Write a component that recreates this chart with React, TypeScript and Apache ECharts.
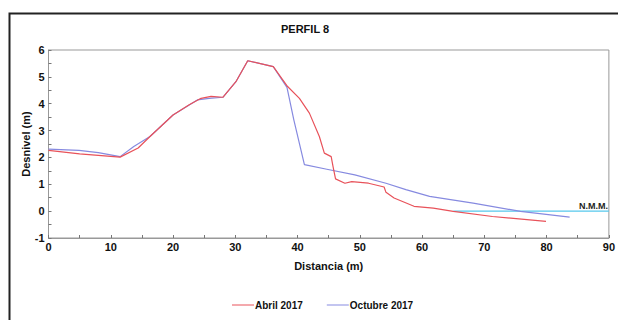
import React, { useEffect, useRef } from "react";
import * as echarts from "echarts";

const chartTitle = "PERFIL 8";
const xAxisName = "Distancia (m)";
const yAxisName = "Desnivel (m)";
const seriesNames = ["Abril 2017", "Octubre 2017"];
const nmmLabel = "N.M.M.";

const abrilX = [0, 5, 11.5, 14.4, 16.3, 20, 22.6, 24.5, 26.1, 28, 30.1, 32, 36.1, 38.4, 40.3, 41.9, 43.5, 44.3, 45.4, 45.7, 46.1, 47.6, 48.7, 51.4, 53.9, 54.2, 55.5, 58.7, 61.8, 65, 71.3, 79.9];
const abrilY = [2.26, 2.13, 2.01, 2.35, 2.78, 3.58, 3.96, 4.2, 4.27, 4.24, 4.82, 5.6, 5.38, 4.64, 4.2, 3.65, 2.78, 2.16, 2.03, 1.66, 1.2, 1.04, 1.1, 1.04, 0.9, 0.7, 0.49, 0.18, 0.11, -0.01, -0.2, -0.38];

const octX = [0, 4.9, 8, 11.5, 13.7, 16.3, 20, 23.9, 25.8, 28, 30.1, 32, 36.1, 38.3, 39.4, 41.1, 44.7, 49.2, 54.2, 57.4, 61.2, 68.2, 75.8, 83.7];
const octY = [2.31, 2.26, 2.18, 2.03, 2.41, 2.78, 3.58, 4.14, 4.2, 4.24, 4.82, 5.6, 5.38, 4.61, 3.4, 1.73, 1.56, 1.35, 1.04, 0.8, 0.55, 0.3, -0.01, -0.22];

const nmmX = [65, 90];
const nmmY = [0, 0];

const zip = (xs: number[], ys: number[]) => xs.map((x, i) => [x, ys[i]]);

export default function App() {
  const ref = useRef<HTMLDivElement>(null);
  useEffect(() => {
    if (!ref.current) return;
    const chart = echarts.init(ref.current, null, { renderer: "svg" });
    const font = "'Liberation Sans', Arial, sans-serif";
    chart.setOption({
      animation: false,
      backgroundColor: "#ffffff",
      textStyle: { fontFamily: font },
      title: {
        text: chartTitle,
        left: 276,
        top: 18,
        textStyle: { fontSize: 11, fontWeight: "bold", color: "#111", fontFamily: font },
      },
      legend: {
        left: 227,
        top: 295,
        itemWidth: 22,
        itemHeight: 1,
        itemGap: 24,
        icon: "rect",
        data: seriesNames,
        textStyle: { fontSize: 10, fontWeight: "bold", color: "#111", fontFamily: font, padding: [0, 0, 0, -4] },
      },
      grid: {
        left: 48.5,
        right: 9,
        top: 50,
        bottom: 82,
        show: true,
        borderColor: "#999",
        borderWidth: 1,
        backgroundColor: "transparent",
      },
      xAxis: {
        type: "value",
        min: 0,
        max: 90,
        interval: 10,
        name: xAxisName,
        nameLocation: "middle",
        nameGap: 22,
        nameMoveOverlap: false,
        nameTextStyle: { fontSize: 11, fontWeight: "bold", color: "#111", fontFamily: font },
        axisLine: { show: true, onZero: false, lineStyle: { color: "#999" } },
        axisTick: { show: true, inside: true, length: 3, lineStyle: { color: "#777" } },
        minorTick: { show: true, splitNumber: 2, length: 3, lineStyle: { color: "#777" } },
        axisLabel: { fontSize: 11, fontWeight: "bold", color: "#111", margin: 3, fontFamily: font },
        splitLine: { show: false },
      },
      yAxis: {
        type: "value",
        min: -1,
        max: 6,
        interval: 1,
        name: yAxisName,
        nameLocation: "middle",
        nameGap: 17,
        nameMoveOverlap: false,
        nameTextStyle: { fontSize: 11, fontWeight: "bold", color: "#111", fontFamily: font },
        axisLine: { show: true, onZero: false, lineStyle: { color: "#999" } },
        axisTick: { show: true, inside: true, length: 3, lineStyle: { color: "#777" } },
        minorTick: { show: true, splitNumber: 2, length: 3, lineStyle: { color: "#777" } },
        axisLabel: { fontSize: 11, fontWeight: "bold", color: "#111", margin: 4, fontFamily: font },
        splitLine: { show: false },
      },
      series: [
        {
          name: "N.M.M.",
          type: "line",
          data: zip(nmmX, nmmY),
          symbol: "none",
          lineStyle: { color: "#56c8ec", width: 1.3 },
          itemStyle: { color: "#56c8ec" },
          endLabel: {
            show: true,
            formatter: nmmLabel,
            align: "right",
            verticalAlign: "bottom",
            offset: [-9, -1],
            fontSize: 9,
            fontWeight: "bold",
            color: "#222",
            fontFamily: font,
          },
          silent: true,
          z: 1,
        },
        {
          name: seriesNames[0],
          type: "line",
          data: zip(abrilX, abrilY),
          symbol: "none",
          lineStyle: { color: "#e8525a", width: 1.2 },
          itemStyle: { color: "#e8525a" },
          z: 3,
        },
        {
          name: seriesNames[1],
          type: "line",
          data: zip(octX, octY),
          symbol: "none",
          lineStyle: { color: "#868ae0", width: 1.2 },
          itemStyle: { color: "#868ae0" },
          z: 2,
        },
      ],
      graphic: [
        {
          type: "rect",
          left: 7,
          top: 11,
          shape: { x: 0, y: 0, width: 700, height: 400 },
          style: { fill: "none", stroke: "#222", lineWidth: 2 },
          silent: true,
        },
      ],
    });
    return () => chart.dispose();
  }, []);
  return (
    <div
      ref={ref}
      style={{ position: "fixed", left: 0, top: 0, width: 618, height: 320, background: "#fff" }}
    />
  );
}
